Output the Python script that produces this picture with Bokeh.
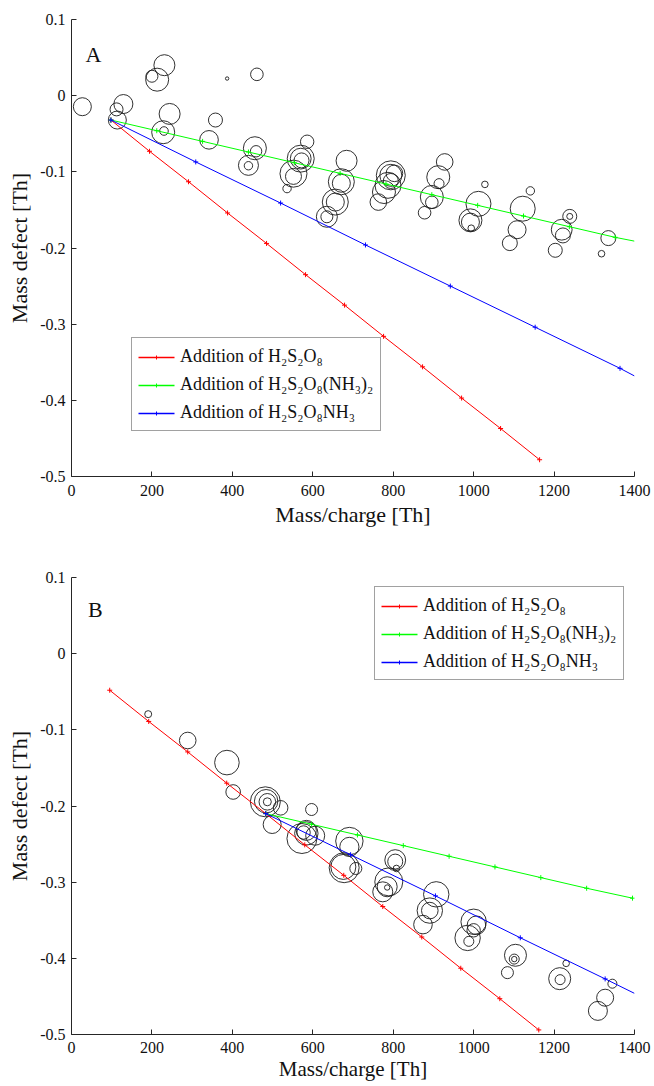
from bokeh.plotting import figure
from bokeh.models import ColumnDataSource, Legend, LegendItem, FixedTicker, Label, Range1d
from bokeh.layouts import column
from bokeh.embed import file_html
from bokeh.resources import INLINE

# ---------------- data: panel A ----------------
mz_A = [27, 112, 129, 114, 200, 213, 231, 244, 228, 230, 358, 342, 387, 461, 456, 459, 440, 440,
        586, 570, 570, 572, 552, 552, 536, 684, 671, 671, 656, 656, 635, 635, 794, 794, 803, 787,
        777, 763, 794, 928, 912, 914, 896, 896, 878, 1028, 1012, 992, 992, 994, 1141, 1122, 1108,
        1090, 1239, 1239, 1219, 1222, 1203, 1335, 1318]
md_A = [-0.0145, -0.018, -0.011, -0.032, 0.0255, 0.021, 0.040, -0.024, -0.048, -0.0464, -0.032,
        -0.058, 0.0225, 0.028, -0.069, -0.073, -0.0915, -0.092, -0.0605, -0.0827, -0.0827, -0.085,
        -0.1024, -0.106, -0.122, -0.0855, -0.113, -0.115, -0.1397, -0.1397, -0.159, -0.159, -0.1046,
        -0.1046, -0.102, -0.1177, -0.1265, -0.1397, -0.112, -0.087, -0.107, -0.1155, -0.133, -0.140,
        -0.1537, -0.1165, -0.142, -0.1637, -0.166, -0.174, -0.125, -0.1484, -0.176, -0.1936, -0.1585,
        -0.1585, -0.176, -0.1835, -0.203, -0.187, -0.2075]
intensity_A = [9, 6.5, 9.5, 9, 6, 11.5, 10.5, 10.5, 11.5, 4.3, 7, 9.3, 1.7, 6.3, 11.5, 5.7, 10, 4.2,
               6.7, 13.5, 10.4, 7.5, 13.5, 8, 4.2, 10.5, 13, 9, 13, 9, 10.5, 6, 14.5, 11, 8.3, 13,
               11.5, 8.3, 7.5, 8.3, 11.5, 5, 11.5, 6.3, 6.3, 3.3, 12.5, 11.5, 9, 3.3, 4.2, 12.5, 9,
               7.5, 7, 3, 10.4, 7.5, 7, 7.5, 3.3]

red_x_A = [98, 194, 291, 388, 485, 582, 679, 776, 873, 970, 1067, 1164]
red_y_A = [-0.032, -0.073, -0.113, -0.154, -0.194, -0.235, -0.275, -0.316, -0.356, -0.397, -0.437, -0.478]
green_x_A = [98, 212, 326, 440, 554, 668, 782, 896, 1010, 1124, 1238, 1352]
green_y_A = [-0.032, -0.046, -0.060, -0.074, -0.088, -0.102, -0.116, -0.130, -0.144, -0.158, -0.172, -0.186]
green_end_A = (1400, -0.191)
blue_x_A = [98, 309, 520, 731, 942, 1153, 1364]
blue_y_A = [-0.032, -0.087, -0.141, -0.196, -0.250, -0.304, -0.358]
blue_end_A = (1400, -0.368)

# ---------------- data: panel B ----------------
mz_B = [190.7, 289, 386.5, 402, 482, 484, 487, 487, 520, 499, 597, 573, 584, 584, 577, 606, 691, 691,
        678, 676, 707, 805, 805, 808, 789, 785, 774, 785, 907, 891, 891, 874, 1000, 1007, 1000, 985,
        988, 1104, 1101, 1101, 1084, 1214, 1215, 1230, 1327, 1309, 1345]
md_B = [-0.0794, -0.114, -0.143, -0.1816, -0.1945, -0.1937, -0.1945, -0.1945, -0.2024, -0.2243,
        -0.2046, -0.2427, -0.236, -0.232, -0.2348, -0.239, -0.246, -0.2537, -0.281, -0.280, -0.282,
        -0.271, -0.273, -0.282, -0.2996, -0.306, -0.3127, -0.307, -0.316, -0.3373, -0.3373, -0.3557,
        -0.352, -0.3566, -0.3632, -0.3732, -0.3777, -0.396, -0.401, -0.401, -0.4188, -0.4267, -0.428,
        -0.4066, -0.4517, -0.469, -0.4333]
intensity_B = [3.5, 8.3, 12.3, 7.3, 15, 11.7, 8.3, 4, 7.3, 9, 6, 15, 11.7, 10, 6.7, 9.5, 13.7, 9.6,
               15, 12.5, 6, 10.4, 7.5, 3.3, 14, 10, 10, 2.7, 12.7, 12.7, 8.3, 9.3, 12.7, 9.3, 6.7, 12.7,
               5, 11, 5, 2.7, 6, 11, 5, 3.3, 8.5, 9.5, 4.5]

red_x_B = [95, 192, 289, 386, 483, 580, 677, 774, 871, 968, 1065, 1162]
red_y_B = [-0.048, -0.089, -0.129, -0.170, -0.210, -0.251, -0.291, -0.332, -0.372, -0.413, -0.453, -0.494]
green_x_B = [483, 597, 711, 825, 939, 1053, 1167, 1281, 1395]
green_y_B = [-0.210, -0.224, -0.238, -0.252, -0.266, -0.280, -0.294, -0.308, -0.321]
blue_x_B = [483, 694, 905, 1116, 1327]
blue_y_B = [-0.210, -0.264, -0.318, -0.373, -0.427]
blue_end_B = (1400, -0.446)

x_ticks = [0, 200, 400, 600, 800, 1000, 1200, 1400]
y_ticks = [-0.5, -0.4, -0.3, -0.2, -0.1, 0, 0.1]
y_tick_labels = {-0.5: "-0.5", -0.4: "-0.4", -0.3: "-0.3", -0.2: "-0.2", -0.1: "-0.1", 0: "0", 0.1: "0.1"}

legend_labels = ["Addition of H\u2082S\u2082O\u2088",
                 "Addition of H\u2082S\u2082O\u2088(NH\u2083)\u2082",
                 "Addition of H\u2082S\u2082O\u2088NH\u2083"]

FONT = "Liberation Serif"
AX = "#262626"
X0, X1, Y0, Y1 = 0, 1400, -0.5, 0.1
FW, FH = 563, 457
# legend geometry (screen px)
PAD, GW, ROW, SP = 7, 36, 22, 6


def panel(mz, md, inten, series, panel_label, label_xy, legend_loc, top, bottom,
          xlab_size, xlab_standoff, xtick_standoff):
    p = figure(frame_width=FW, frame_height=FH, min_border_left=71, min_border_right=20,
               min_border_top=top, min_border_bottom=bottom,
               x_range=Range1d(X0, X1), y_range=Range1d(Y0, Y1),
               output_backend="svg", toolbar_location=None,
               x_axis_label="Mass/charge [Th]", y_axis_label="Mass defect [Th]")
    p.outline_line_color = None
    p.xgrid.visible = False
    p.ygrid.visible = False
    p.background_fill_color = "white"
    p.border_fill_color = "white"

    p.xaxis.ticker = FixedTicker(ticks=x_ticks)
    p.yaxis.ticker = FixedTicker(ticks=y_ticks)
    p.yaxis.major_label_overrides = y_tick_labels
    for ax in (p.xaxis[0], p.yaxis[0]):
        ax.major_tick_in = 5
        ax.major_tick_out = 0
        ax.minor_tick_line_color = None
        ax.axis_line_color = AX
        ax.major_tick_line_color = AX
        ax.major_label_text_font = FONT
        ax.major_label_text_font_size = "16px"
        ax.major_label_text_color = "#111111"
        ax.axis_label_text_font = FONT
        ax.axis_label_text_font_size = "22px"
        ax.axis_label_text_font_style = "normal"
        ax.axis_label_text_color = "#111111"
        ax.major_label_standoff = 6
        ax.axis_label_standoff = 5
    p.xaxis.major_label_standoff = xtick_standoff
    p.xaxis.axis_label_standoff = xlab_standoff
    p.xaxis.axis_label_text_font_size = xlab_size

    src = ColumnDataSource(dict(x=mz, y=md, s=[2 * v for v in inten]))
    p.scatter("x", "y", size="s", source=src, marker="circle", fill_color=None,
              line_color="#1a1a1a", line_width=0.9)

    # legend rows (labels from a Legend, swatches drawn at the matching rows)
    px_x = (X1 - X0) / FW
    px_y = (Y1 - Y0) / FH
    lx0, ly0 = legend_loc
    items = []
    n = len(series)
    for i, ((xs, ys, end, color), lab) in enumerate(zip(series, legend_labels)):
        lx = list(xs) + ([end[0]] if end else [])
        ly = list(ys) + ([end[1]] if end else [])
        p.line(lx, ly, line_color=color, line_width=1)
        p.scatter(list(xs), list(ys), marker="cross", size=5, line_color=color, line_width=1)
        kl = p.line(x=[], y=[], line_color=color, line_width=1)
        items.append(LegendItem(label=lab, renderers=[kl]))
        row_c = ly0 + PAD + (n - 1 - i) * (ROW + SP) + ROW / 2
        yy = Y0 + row_c * px_y
        sx0 = X0 + (lx0 + PAD) * px_x
        sx1 = X0 + (lx0 + PAD + GW) * px_x
        p.line([sx0, sx1], [yy, yy], line_color=color, line_width=1.3)
        p.scatter([(sx0 + sx1) / 2], [yy], marker="cross", size=4, line_color=color, line_width=1)

    leg = Legend(items=items, location=legend_loc)
    leg.border_line_color = "#444444"
    leg.border_line_width = 1
    leg.background_fill_alpha = 0
    leg.label_text_font = FONT
    leg.label_text_font_size = "18px"
    leg.label_text_color = "#111111"
    leg.glyph_width = GW
    leg.glyph_height = ROW
    leg.label_height = ROW
    leg.spacing = SP
    leg.padding = PAD
    leg.margin = 0
    leg.label_standoff = 5
    p.add_layout(leg)

    p.add_layout(Label(x=label_xy[0], y=label_xy[1], text=panel_label, text_font=FONT,
                       text_font_size="22px", text_color="#111111", text_baseline="alphabetic"))
    return p


pA = panel(mz_A, md_A, intensity_A,
           [(red_x_A, red_y_A, None, "#ff0000"),
            (green_x_A, green_y_A, green_end_A, "#00ff00"),
            (blue_x_A, blue_y_A, blue_end_A, "#0000ff")],
           "A", (35, 0.0547), (60, 45), 19, 62, "22px", 3, 8)
pB = panel(mz_B, md_B, intensity_B,
           [(red_x_B, red_y_B, None, "#ff0000"),
            (green_x_B, green_y_B, None, "#00ff00"),
            (blue_x_B, blue_y_B, blue_end_B, "#0000ff")],
           "B", (41, 0.0586), (303, 354), 39, 48, "21px", 1, 7)

layout = column(pA, pB)
open("out.html", "w", encoding="utf-8").write(file_html(layout, INLINE))
